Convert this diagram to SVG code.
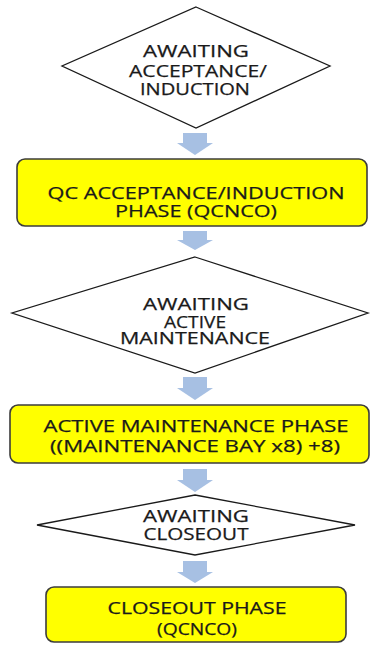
<svg xmlns="http://www.w3.org/2000/svg" width="371" height="645" viewBox="0 0 371 645">
  <defs>
    <style>
      .dec { fill: #ffffff; stroke: #1a1a1a; stroke-width: 1.3; }
      .proc { fill: #ffff00; stroke: #3c3c3c; stroke-width: 1.6; }
      .lbl { font-family: "Open Sans", "Liberation Sans", sans-serif; font-size: 17px; font-weight: 500; fill: #1a1a1a; stroke: #1a1a1a; stroke-width: 0.25; text-anchor: middle; }
      .flow { fill: #a7c0e3; stroke: none; }
    </style>
  </defs>
  <rect width="371" height="645" fill="#ffffff"/>

  <!-- block arrows between steps -->
  <g id="connectors">
    <path class="flow" d="M183,133 H207 V143 H213 L195,155 L177,143 H183 Z"/>
    <path class="flow" d="M183,231 H207 V240 H213 L195,250 L177,240 H183 Z"/>
    <path class="flow" d="M183,377 H207 V388 H213 L195,400 L177,388 H183 Z"/>
    <path class="flow" d="M183,469 H207 V480 H213 L195,492 L177,480 H183 Z"/>
    <path class="flow" d="M183,561 H207 V572 H213 L195,583 L177,572 H183 Z"/>
  </g>

  <g id="awaiting-acceptance">
    <polygon class="dec" points="196,7 330,66 196,128 62,66"/>
    <text class="lbl" x="196" y="56.5" textLength="106" lengthAdjust="spacingAndGlyphs">AWAITING</text>
    <text class="lbl" x="198" y="76.5" textLength="138" lengthAdjust="spacingAndGlyphs">ACCEPTANCE/</text>
    <text class="lbl" x="195" y="94.5" textLength="110" lengthAdjust="spacingAndGlyphs">INDUCTION</text>
  </g>

  <g id="qc-acceptance-phase">
    <rect class="proc" x="17" y="159" width="350" height="67" rx="8"/>
    <text class="lbl" x="196" y="198.5" textLength="297" lengthAdjust="spacingAndGlyphs">QC ACCEPTANCE/INDUCTION</text>
    <text class="lbl" x="196" y="216.5" textLength="162" lengthAdjust="spacingAndGlyphs">PHASE (QCNCO)</text>
  </g>

  <g id="awaiting-active-maintenance">
    <polygon class="dec" points="195,257 368,313 195,373 12,313"/>
    <text class="lbl" x="196" y="309.5" textLength="106" lengthAdjust="spacingAndGlyphs">AWAITING</text>
    <text class="lbl" x="195" y="327.5" textLength="62" lengthAdjust="spacingAndGlyphs">ACTIVE</text>
    <text class="lbl" x="195" y="344" textLength="150" lengthAdjust="spacingAndGlyphs">MAINTENANCE</text>
  </g>

  <g id="active-maintenance-phase">
    <rect class="proc" x="10" y="405" width="359" height="58" rx="8"/>
    <text class="lbl" x="196" y="431.5" textLength="305" lengthAdjust="spacingAndGlyphs">ACTIVE MAINTENANCE PHASE</text>
    <text class="lbl" x="195" y="451.5" textLength="290" lengthAdjust="spacingAndGlyphs">((MAINTENANCE BAY x8) +8)</text>
  </g>

  <g id="awaiting-closeout">
    <polygon class="dec" points="195,495 355,525 195,555 37,525"/>
    <text class="lbl" x="196" y="521.5" textLength="106" lengthAdjust="spacingAndGlyphs">AWAITING</text>
    <text class="lbl" x="196" y="539.5" textLength="105" lengthAdjust="spacingAndGlyphs">CLOSEOUT</text>
  </g>

  <g id="closeout-phase">
    <rect class="proc" x="46" y="587" width="300" height="55" rx="8"/>
    <text class="lbl" x="197" y="613.5" textLength="179" lengthAdjust="spacingAndGlyphs">CLOSEOUT PHASE</text>
    <text class="lbl" x="197" y="634.5" textLength="80" lengthAdjust="spacingAndGlyphs">(QCNCO)</text>
  </g>
</svg>
